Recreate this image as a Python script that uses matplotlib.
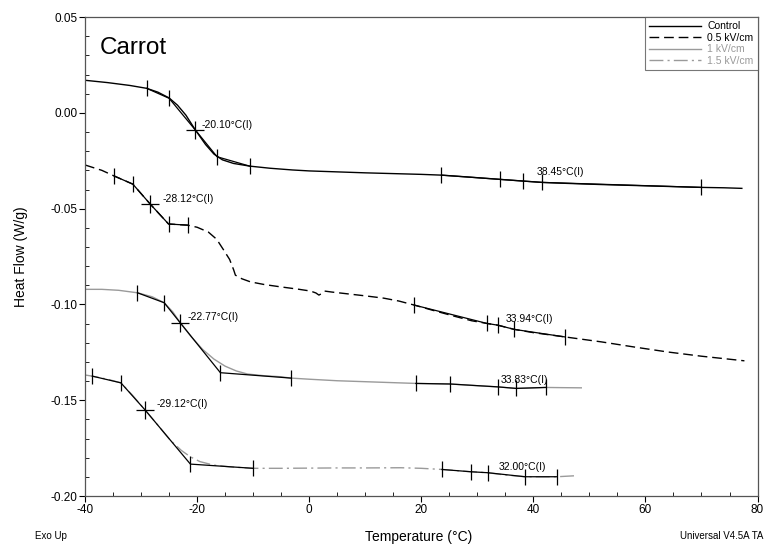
import matplotlib
matplotlib.use('Agg')
import matplotlib.pyplot as plt
from matplotlib.ticker import MultipleLocator

plt.rcParams['font.family'] = ['Liberation Sans', 'DejaVu Sans']
plt.rcParams['axes.unicode_minus'] = False

# DSC curves (temperature in degC, heat flow in W/g)
ctrl_t = [-40, -36, -32, -29, -27, -25, -23.5, -22, -20.3, -18.5, -17, -15.5, -13.5, -10.6, -7, -3, 0, 5,
          10, 15, 20, 23.6, 28, 34, 38.2, 41.6, 46, 52, 58, 64, 70, 74, 77.2]
ctrl_hf = [0.017, 0.0158, 0.0143, 0.0128, 0.0108, 0.0078, 0.0040, -0.0012, -0.009, -0.0165, -0.0215, -0.0245,
           -0.0264, -0.0278, -0.0289, -0.0298, -0.0303, -0.0308, -0.0313, -0.0317, -0.0321, -0.0325, -0.0334,
           -0.0347, -0.0356, -0.0363, -0.0368, -0.0374, -0.0379, -0.0384, -0.0389, -0.0391, -0.0394]

e05_t = [-40, -37, -34.76, -31.47, -28.37, -25.1, -23.5, -21.7, -20, -18, -16.5, -15.26, -14.2, -13.47, -13.17,
         -12, -10.48, -8, -5.12, -2, 0.25, 1.2, 1.73, 2.3, 2.75, 4, 7, 10, 13.3, 16, 18.73, 22, 26, 29, 31.73,
         33.65, 36.6, 40, 45.56, 52.1, 58, 64, 70, 77.66]
e05_hf = [-0.0272, -0.0300, -0.0330, -0.0372, -0.0476, -0.0580, -0.0583, -0.0586, -0.0597, -0.0622, -0.0660,
          -0.0716, -0.0765, -0.0820, -0.0847, -0.0866, -0.0882, -0.0896, -0.0908, -0.0920, -0.0930, -0.0940,
          -0.0951, -0.0942, -0.0930, -0.0935, -0.0945, -0.0955, -0.0967, -0.0982, -0.1003, -0.1030, -0.1062,
          -0.1085, -0.1099, -0.1108, -0.1130, -0.1147, -0.1169, -0.1195, -0.1222, -0.1248, -0.1270, -0.1294]

e10_t = [-40, -37, -34, -30.64, -28, -25.87, -24.3, -23.0, -21, -19, -17, -15, -13, -11, -8, -5.12, -3.33, 0,
         5, 10, 15, 19.03, 25.17, 30, 33.65, 36.92, 42.17, 45, 48.55]
e10_hf = [-0.0921, -0.0921, -0.0926, -0.0939, -0.0960, -0.0991, -0.1040, -0.1096, -0.1170, -0.1235, -0.1285,
          -0.1322, -0.1347, -0.1363, -0.1372, -0.1377, -0.1384, -0.1390, -0.1398, -0.1403, -0.1408, -0.1412,
          -0.1415, -0.1424, -0.1430, -0.1438, -0.1433, -0.1434, -0.1435]

e15_t = [-40, -38.7, -36, -33.6, -31.5, -29.27, -27, -24.8, -22.8, -21.2, -19.5, -17.1, -14, -10, -5.12, 0, 5,
         10, 16.35, 20, 23.7, 28.87, 31.86, 35, 38.53, 44.2, 47.35]
e15_hf = [-0.1368, -0.1374, -0.1390, -0.1409, -0.1475, -0.1551, -0.1630, -0.1708, -0.1762, -0.1795, -0.1820,
          -0.1838, -0.1848, -0.1855, -0.1855, -0.1854, -0.1853, -0.1853, -0.1852, -0.1855, -0.1861, -0.1873,
          -0.1878, -0.1890, -0.1899, -0.1899, -0.1894]

# analysis marks (glass transition onset / end lines), two groups per curve
ctrl_m1_t = [-29, -25, -20.3, -16.44, -10.61]
ctrl_m1_hf = [0.0128, 0.0076, -0.009, -0.0229, -0.0278]
ctrl_m2_t = [23.6, 34.0, 38.2, 41.6, 70.0]
ctrl_m2_hf = [-0.0325, -0.0347, -0.0356, -0.0363, -0.0389]

e05_m1_t = [-34.76, -31.47, -28.37, -25.1, -21.7]
e05_m1_hf = [-0.0330, -0.0372, -0.0476, -0.0580, -0.0586]
e05_m2_t = [18.73, 31.73, 33.65, 36.6, 45.56]
e05_m2_hf = [-0.1003, -0.1099, -0.1108, -0.1130, -0.1169]

e10_m1_t = [-30.64, -25.87, -23.0, -15.85, -3.33]
e10_m1_hf = [-0.0939, -0.0991, -0.1096, -0.1356, -0.1384]
e10_m2_t = [19.03, 25.17, 33.65, 36.92, 42.17]
e10_m2_hf = [-0.1412, -0.1415, -0.1430, -0.1438, -0.1433]

e15_m1_t = [-38.7, -33.6, -29.27, -21.2, -10.0]
e15_m1_hf = [-0.1374, -0.1409, -0.1551, -0.1833, -0.1855]
e15_m2_t = [23.7, 28.87, 31.86, 38.53, 44.2]
e15_m2_hf = [-0.1861, -0.1873, -0.1878, -0.1899, -0.1899]

# inflection labels
tg_text = ['-20.10°C(I)', '-28.12°C(I)', '-22.77°C(I)', '-29.12°C(I)',
           '38.45°C(I)', '33.94°C(I)', '33.83°C(I)', '32.00°C(I)']
tg_x = [-19.13, -26.1, -21.7, -27.3, 40.5, 35.1, 34.2, 33.8]
tg_y = [-0.0064, -0.0451, -0.1064, -0.152, -0.0307, -0.1078, -0.1395, -0.1847]

gray = '#9a9a9a'

fig = plt.figure(figsize=(7.73, 5.5), dpi=100)
ax = fig.add_axes([0.110, 0.098, 0.870, 0.871])

ax.plot(ctrl_t, ctrl_hf, color='black', lw=1.0, label='Control')
ax.plot(e05_t, e05_hf, color='black', lw=1.0, dashes=(7, 3.5), label='0.5 kV/cm')
ax.plot(e10_t, e10_hf, color=gray, lw=1.0, label='1 kV/cm')
ax.plot(e15_t, e15_hf, color=gray, lw=1.0, dashes=(10, 3, 1.5, 3), label='1.5 kV/cm')

# black analysis lines and marks
marks = [(ctrl_m1_t, ctrl_m1_hf), (ctrl_m2_t, ctrl_m2_hf), (e05_m1_t, e05_m1_hf), (e05_m2_t, e05_m2_hf),
         (e10_m1_t, e10_m1_hf), (e10_m2_t, e10_m2_hf), (e15_m1_t, e15_m1_hf), (e15_m2_t, e15_m2_hf)]
for i, (mt, mh) in enumerate(marks):
    ax.plot(mt, mh, color='black', lw=0.9)
    if i % 2 == 0:
        # middle point is the inflection, drawn as a cross
        ax.plot(mt[:2] + mt[3:], mh[:2] + mh[3:], ls='none', marker='|', ms=11, mew=0.9, color='black')
        ax.plot([mt[2]], [mh[2]], ls='none', marker='+', ms=13, mew=0.9, color='black')
    else:
        ax.plot(mt, mh, ls='none', marker='|', ms=11, mew=0.9, color='black')

for s, x, y in zip(tg_text, tg_x, tg_y):
    ax.text(x, y, s, fontsize=7.5, va='center', ha='left')

ax.text(0.022, 0.935, 'Carrot', transform=ax.transAxes, fontsize=17.5, va='center', ha='left')

ax.set_xlim(-40, 80)
ax.set_ylim(-0.20, 0.05)
ax.xaxis.set_major_locator(MultipleLocator(20))
ax.xaxis.set_minor_locator(MultipleLocator(5))
ax.yaxis.set_major_locator(MultipleLocator(0.05))
ax.yaxis.set_minor_locator(MultipleLocator(0.01))
ax.set_yticklabels(['%.2f' % v for v in ax.get_yticks()])
ax.tick_params(which='major', direction='out', length=4, width=0.8, labelsize=8.5, pad=1.5)
ax.tick_params(which='minor', direction='in', length=3, width=0.6)
for sp in ax.spines.values():
    sp.set_color('#555555')
    sp.set_linewidth(0.9)

ax.set_ylabel('Heat Flow (W/g)', fontsize=10, labelpad=16)
fig.text(0.541, 0.024, 'Temperature (°C)', fontsize=10, ha='center', va='center')
fig.text(0.045, 0.026, 'Exo Up', fontsize=7, ha='left', va='center')
fig.text(0.987, 0.026, 'Universal V4.5A TA', fontsize=7, ha='right', va='center')

leg = ax.legend(loc='upper right', fontsize=7.5, frameon=True, fancybox=False, borderaxespad=0,
                handlelength=5.0, handletextpad=0.6, borderpad=0.4, labelspacing=0.15)
leg.get_frame().set_edgecolor('#555555')
leg.get_frame().set_linewidth(0.8)
for txt, c in zip(leg.get_texts(), ['black', 'black', gray, gray]):
    txt.set_color(c)

fig.savefig('out.png', dpi=100)
